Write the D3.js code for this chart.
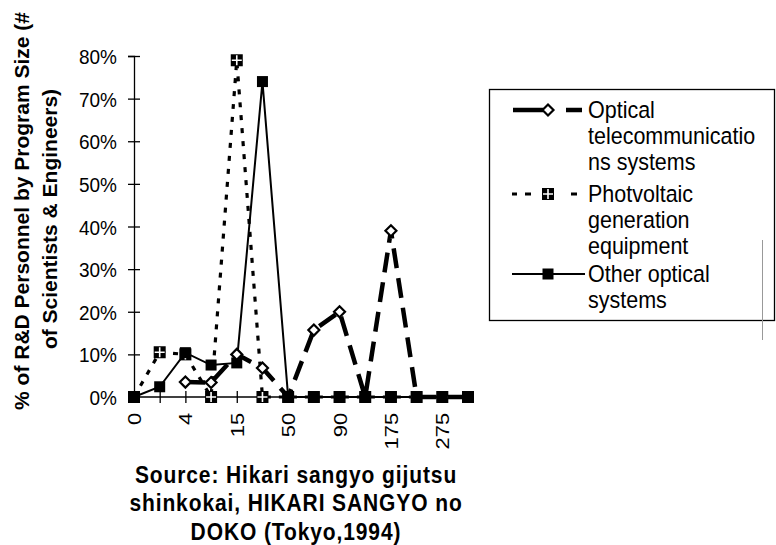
<!DOCTYPE html>
<html>
<head>
<meta charset="utf-8">
<script src="https://cdn.jsdelivr.net/npm/d3@7"></script>
<style>
  body { margin: 0; background: #fff; }
  svg { display: block; }
  text { font-family: "Liberation Sans", Arial, sans-serif; fill: #000; }
</style>
</head>
<body>
<svg width="776" height="545"></svg>
<script>
// program size categories (only every other label is printed on the axis)
var categories = ["0", "2", "4", "10", "15", "25", "50", "75", "90", "125", "175", "225", "275", "325"];
var telecom     = [null, null, 0.035, 0.034, 0.10, 0.068, 0, 0.157, 0.20, 0, 0.39, 0, 0, 0];
var photovolt   = [0, 0.105, 0.10, 0, 0.79, 0, 0, 0, 0, 0, 0, 0, 0, 0];
var otherOptic  = [0, 0.024, 0.104, 0.075, 0.08, 0.74, 0, 0, 0, 0, 0, 0, 0, 0];
var yTicks = [0, 0.1, 0.2, 0.3, 0.4, 0.5, 0.6, 0.7, 0.8];
var seriesNames = [
  ["Optical", "telecommunicatio", "ns systems"],
  ["Photvoltaic", "generation", "equipment"],
  ["Other optical", "systems"]
];
var sourceLines = ["Source: Hikari sangyo gijutsu", "shinkokai, HIKARI SANGYO no", "DOKO (Tokyo,1994)"];

var svg = d3.select("svg");

var x = d3.scalePoint().domain(categories).range([134, 468]);
var y = d3.scaleLinear().domain([0, 0.8]).range([397, 56]);

// the scanned original is a little stretched vertically, so text gets a y scale
function placeText(g, px, py, sy, rotated) {
  return g.append("text")
    .attr("transform", "translate(" + px + "," + py + ") scale(1," + sy + ")" + (rotated ? " rotate(-90)" : ""));
}

// y axis
var yAxis = svg.append("g").attr("transform", "translate(134,0)")
    .call(d3.axisLeft(y).tickValues(yTicks).tickFormat(d3.format(".0%")).tickSize(6).tickPadding(11));
yAxis.select(".domain").attr("stroke", "#000").attr("stroke-width", 1.3);
yAxis.selectAll(".tick line").attr("x2", 6).attr("x1", -6).attr("stroke-width", 1.3);
yAxis.selectAll(".tick text").style("font-size", "19px").attr("dy", "0.36em")
    .attr("transform", "scale(1,1.1)");

// x axis
var xAxis = svg.append("g").attr("transform", "translate(0,397)")
    .call(d3.axisBottom(x).tickFormat(function(d, i) { return i % 2 === 0 ? d : ""; }).tickSize(6).tickPadding(6));
xAxis.select(".domain").attr("stroke-width", 1.3).attr("d", "M134,0H468");
xAxis.selectAll(".tick line").attr("y1", -6).attr("y2", 6).attr("stroke-width", 1.3);
xAxis.selectAll(".tick text")
    .style("font-size", "18px")
    .attr("transform", "scale(1,1.22) rotate(-90)")
    .attr("text-anchor", "end")
    .attr("x", -13).attr("y", 0).attr("dy", "0.36em");

// y title
placeText(svg, 22, 211, 1.05, true)
    .attr("text-anchor", "middle").attr("dy", "0.36em")
    .style("font-weight", "bold").style("font-size", "20px")
    .text("% of R&D Personnel by Program Size (#");
placeText(svg, 50, 219, 1.05, true)
    .attr("text-anchor", "middle").attr("dy", "0.36em")
    .style("font-weight", "bold").style("font-size", "20px")
    .text("of Scientists & Engineers)");

var line = d3.line()
    .defined(function(d) { return d !== null; })
    .x(function(d, i) { return x(categories[i]); })
    .y(function(d) { return y(d); });

// lines
svg.append("path").datum(otherOptic).attr("d", line)
    .attr("fill", "none").attr("stroke", "#000").attr("stroke-width", 2);
svg.append("path").datum(photovolt).attr("d", line)
    .attr("fill", "none").attr("stroke", "#000").attr("stroke-width", 3.2).attr("stroke-dasharray", "5,8");
svg.append("path").datum(telecom).attr("d", line)
    .attr("fill", "none").attr("stroke", "#000").attr("stroke-width", 4.5).attr("stroke-dasharray", "20,10");

function squareMarker(g, cx, cy) {
  g.append("rect").attr("x", cx - 5.5).attr("y", cy - 5.5).attr("width", 11).attr("height", 11).attr("fill", "#000");
}
function crossMarker(g, cx, cy) {
  g.append("rect").attr("x", cx - 6).attr("y", cy - 6).attr("width", 12).attr("height", 12).attr("fill", "#000");
  g.append("path").attr("d", "M" + cx + "," + (cy - 5) + "V" + (cy + 5) + "M" + (cx - 5) + "," + cy + "H" + (cx + 5))
    .attr("stroke", "#fff").attr("stroke-width", 1.6);
}
function diamondMarker(g, cx, cy) {
  g.append("path").attr("d", "M" + cx + "," + (cy - 5.5) + "L" + (cx + 5.5) + "," + cy + "L" + cx + "," + (cy + 5.5) + "L" + (cx - 5.5) + "," + cy + "Z")
    .attr("fill", "#fff").attr("stroke", "#000").attr("stroke-width", 2.2);
}

var marks = svg.append("g");
photovolt.forEach(function(v, i) { crossMarker(marks, x(categories[i]), y(v)); });
otherOptic.forEach(function(v, i) { squareMarker(marks, x(categories[i]), y(v)); });
telecom.forEach(function(v, i) { if (v) diamondMarker(marks, x(categories[i]), y(v)); });

// legend
var lg = svg.append("g");
lg.append("rect").attr("x", 489.5).attr("y", 89.5).attr("width", 285).attr("height", 231)
    .attr("fill", "#fff").attr("stroke", "#000").attr("stroke-width", 1.3);
lg.append("line").attr("x1", 762.5).attr("x2", 762.5).attr("y1", 240).attr("y2", 340).attr("stroke", "#999").attr("stroke-width", 1);

var legendRows = [110, 194, 274];
// telecom symbol
lg.append("path").attr("d", "M513," + legendRows[0] + "H543M566," + legendRows[0] + "H582")
    .attr("stroke", "#000").attr("stroke-width", 4.5);
diamondMarker(lg, 548, legendRows[0]);
// photovoltaic symbol
lg.append("path").attr("d", "M512," + legendRows[1] + "H517M525," + legendRows[1] + "H531M571," + legendRows[1] + "H577")
    .attr("stroke", "#000").attr("stroke-width", 3.2);
crossMarker(lg, 548, legendRows[1]);
// other symbol
lg.append("path").attr("d", "M512," + legendRows[2] + "H585").attr("stroke", "#000").attr("stroke-width", 2);
squareMarker(lg, 548, legendRows[2]);

seriesNames.forEach(function(lines, k) {
  lines.forEach(function(t, j) {
    placeText(lg, 588, legendRows[k] + j * 26, 1.08, false).attr("dy", "0.36em")
      .style("font-size", "21.5px").text(t);
  });
});

// source note
sourceLines.forEach(function(t, i) {
  placeText(svg, 296, 474 + i * 28.5, 1.15, false)
    .attr("dy", "0.36em").attr("text-anchor", "middle")
    .style("font-weight", "bold").style("font-size", "21px").style("letter-spacing", "0.9px")
    .text(t);
});
</script>
</body>
</html>
